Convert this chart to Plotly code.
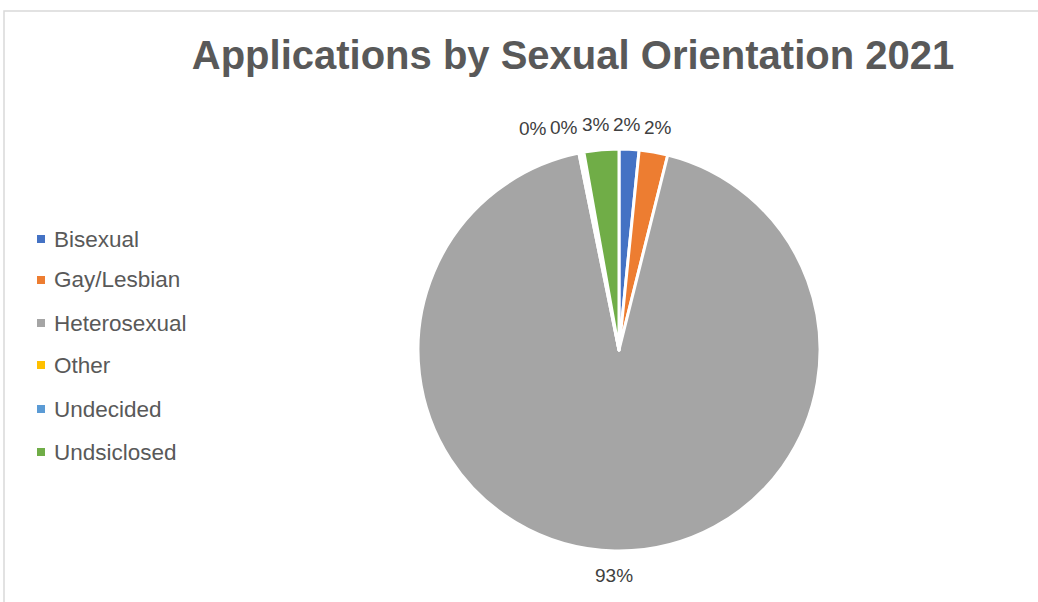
import math
import plotly.graph_objects as go

# Share of applications per orientation (percent)
categories = ["Bisexual", "Gay/Lesbian", "Heterosexual", "Other", "Undecided", "Undsiclosed"]
shares = [1.6, 2.3, 92.9, 0.2, 0.2, 2.8]
colors = ["#4472C4", "#ED7D31", "#A5A5A5", "#FFC000", "#5B9BD5", "#70AD47"]
title_text = "Applications by Sexual Orientation 2021"

W, H = 1038, 602
FONT = "Liberation Sans, Arial, sans-serif"
LABEL_SIZE = 19

# Pie geometry in pixels
cx, cy, radius = 619, 350, 201
label_dist = radius + 25

fig = go.Figure()
fig.add_trace(go.Pie(
    labels=categories,
    values=shares,
    sort=False,
    direction="clockwise",
    rotation=0,
    marker=dict(colors=colors, line=dict(color="white", width=3)),
    textinfo="none",
    showlegend=False,
    hoverinfo="label+percent",
    domain=dict(x=[(cx - radius) / W, (cx + radius) / W],
                y=[1 - (cy + radius) / H, 1 - (cy - radius) / H]),
))

# Percent labels just outside each slice, at the slice's mid-angle
total = sum(shares)
labels = []
cum = 0.0
for v in shares:
    mid = (cum + v / 2) / total * 2 * math.pi
    cum += v
    txt = f"{round(v / total * 100)}%"
    labels.append(dict(
        x=cx + label_dist * math.sin(mid),
        y=cy - label_dist * math.cos(mid),
        text=txt,
        w=len(txt) * 0.74 * LABEL_SIZE + 3,
    ))

# Keep crowded labels along the top edge from sitting on each other:
# sweep right-to-left and push a label left until it clears its neighbour.
top = sorted([lb for lb in labels if lb["y"] < cy], key=lambda d: d["x"], reverse=True)
for right, left in zip(top, top[1:]):
    limit = right["x"] - right["w"] / 2 - left["w"] / 2
    if left["x"] > limit:
        left["x"] = limit

annotations = []
for lb in labels:
    annotations.append(dict(
        x=lb["x"] / W, y=1 - lb["y"] / H, xref="paper", yref="paper",
        xanchor="center", yanchor="middle", showarrow=False,
        text=lb["text"],
        font=dict(family=FONT, size=LABEL_SIZE, color="#404040"),
    ))

# Hand-placed legend on the left
legend_y = [239, 280, 323, 365, 409, 452]
shapes = []
for name, col, yy in zip(categories, colors, legend_y):
    shapes.append(dict(
        type="rect", xref="paper", yref="paper",
        x0=37 / W, x1=45 / W, y0=1 - (yy + 4) / H, y1=1 - (yy - 4) / H,
        fillcolor=col, line=dict(width=0),
    ))
    annotations.append(dict(
        x=52 / W, y=1 - yy / H, xref="paper", yref="paper",
        xanchor="left", yanchor="middle", showarrow=False, text=name,
        font=dict(family=FONT, size=22.5, color="#595959"),
    ))

# Thin frame around the chart area
shapes.append(dict(
    type="rect", xref="paper", yref="paper",
    x0=4 / W, x1=1.02, y0=-0.02, y1=1 - 11 / H,
    line=dict(color="#D9D9D9", width=1.5), fillcolor="rgba(0,0,0,0)",
))

fig.update_layout(
    width=W, height=H,
    margin=dict(l=0, r=0, t=0, b=0),
    paper_bgcolor="white",
    plot_bgcolor="white",
    title=dict(
        text=title_text, x=573 / W, xanchor="center", y=1 - 55 / H, yanchor="middle",
        font=dict(family=FONT, size=40, color="#595959", weight="bold"),
    ),
    shapes=shapes,
    annotations=annotations,
)

fig.write_html("out.html")
